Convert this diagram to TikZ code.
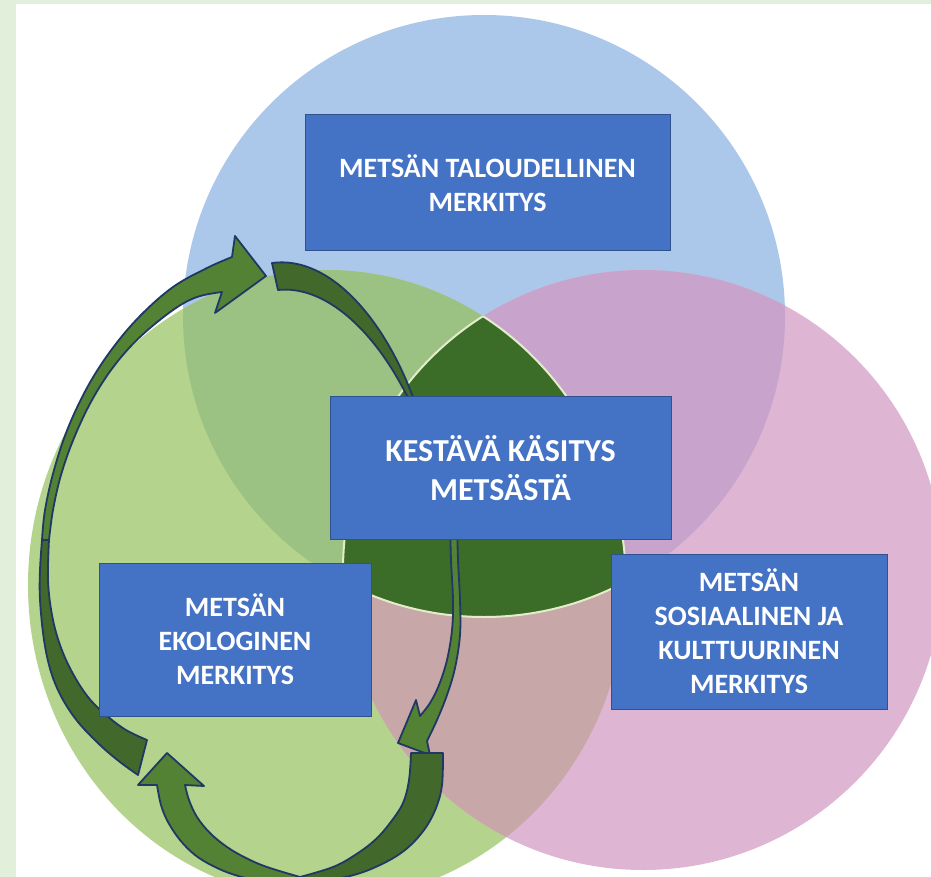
\documentclass[tikz,border=0pt]{standalone}
\usepackage{fontspec}
\setmainfont{Carlito}
\definecolor{frame}{HTML}{E2EFDA}
\definecolor{cblue}{HTML}{ABC7EA}
\definecolor{cgreen}{HTML}{B4D48E}
\definecolor{cpink}{HTML}{DEB5D3}
\definecolor{cbg}{HTML}{9CC283}
\definecolor{cbp}{HTML}{C8A4CD}
\definecolor{cgp}{HTML}{C8A7A8}
\definecolor{ctri}{HTML}{3B6D29}
\definecolor{triline}{HTML}{E3EDCB}
\definecolor{boxblue}{HTML}{4472C4}
\definecolor{boxedge}{HTML}{2F528F}
\definecolor{arrowL}{HTML}{548235}
\definecolor{arrowD}{HTML}{43682B}
\definecolor{arrowEdge}{HTML}{1F3864}
\begin{document}
\begin{tikzpicture}[x=1pt,y=-1pt,
  textbox/.style={rectangle, fill=boxblue, draw=boxedge, line width=1pt,
    text=white, align=center, inner sep=0pt,
    font=\bfseries\fontsize{28}{34}\selectfont},
  bigtext/.style={font=\bfseries\fontsize{32}{39}\selectfont},
  arrowlight/.style={fill=arrowL, draw=arrowEdge, line width=1.8pt, line join=round},
  arrowdark/.style={fill=arrowD, draw=arrowEdge, line width=1.8pt, line join=round},
  tripart/.style={draw=triline, line width=2pt}]
\useasboundingbox (0,0) rectangle (931,877);
\clip (0,0) rectangle (931,877);
% frame
\fill[frame] (0,0) rectangle (931,877);
\fill[white] (16,4) rectangle (931,877);
% circles
\coordinate (cB) at (484,316);
\coordinate (cG) at (327,585);
\coordinate (cP) at (643,570);
\def\blueC{(cB) circle[radius=301pt]}
\def\greenC{(cG) ellipse[x radius=299pt, y radius=315pt]}
\def\pinkC{(cP) circle[radius=300pt]}
\fill[cblue] \blueC;
\fill[cgreen] \greenC;
\fill[cpink] \pinkC;
\begin{scope}
  \clip \blueC;
  \fill[cbg] \greenC;
\end{scope}
\begin{scope}
  \clip \blueC;
  \fill[cbp] \pinkC;
\end{scope}
\begin{scope}
  \clip \greenC;
  \fill[cgp] \pinkC;
\end{scope}
\begin{scope}
  \clip \blueC;
  \clip \greenC;
  \fill[ctri] \pinkC;
  \draw[tripart] \pinkC;
\end{scope}
\begin{scope}
  \clip \blueC;
  \clip \pinkC;
  \draw[tripart] \greenC;
\end{scope}
\begin{scope}
  \clip \greenC;
  \clip \pinkC;
  \draw[tripart] \blueC;
\end{scope}
% arrow A (left, head at top)
\filldraw[arrowdark] plot[smooth, tension=0.6] coordinates {(42,540) (40,570) (40,600) (44,640) (51,672) (62,698) (78,722) (100,745) (120,762) (138,775)}
  -- (147,740)
  -- plot[smooth, tension=0.6] coordinates {(147,740) (126,730) (106,715) (88,697) (72,672) (60,645) (52,615) (48,580) (49,540)} -- cycle;
\filldraw[arrowlight] plot[smooth, tension=0.6] coordinates {(42,540) (45,510) (54,470) (68,428) (88,386) (112,349) (140,316) (173,287) (207,268) (232,257)}
  -- (235,236) -- (266,276) -- (215,313) -- (222,292)
  -- plot[smooth, tension=0.6] coordinates {(222,292) (197,297) (173,310) (140,337) (114,366) (92,400) (74,438) (61,475) (53,510) (49,540)} -- cycle;
% arrow B (top tail, head at lower right)
\filldraw[arrowdark] (272,263) .. controls (330,255) and (385,320) .. (414,400)
  -- (409,400) .. controls (375,330) and (325,285) .. (278,290) -- cycle;
\filldraw[arrowlight] plot[smooth, tension=0.6] coordinates {(450,520) (451,560) (453,600) (452,630) (447,660) (439,685) (430,703) (420,716)}
  -- (416,700) -- (398,743) -- (430,755) -- (427,741)
  -- plot[smooth, tension=0.6] coordinates {(427,741) (437,720) (447,695) (455,668) (460,635) (460,600) (458,560) (457,520)} -- cycle;
% arrow C (bottom, head pointing up at left)
\filldraw[arrowdark] plot[smooth, tension=0.6] coordinates {(443,753) (442,785) (436,808) (424,830) (405,850) (380,865) (350,876) (305,884)}
  -- (300,877)
  -- plot[smooth, tension=0.6] coordinates {(300,877) (333,867) (355,855) (375,840) (390,823) (403,803) (409,780) (411,753)} -- cycle;
\filldraw[arrowlight] plot[smooth, tension=0.6] coordinates {(305,884) (265,882) (235,875) (213,866) (195,855) (180,840) (168,822) (161,805) (157,785)}
  -- (138,785) -- (167,753) -- (204,786) -- (185,785)
  -- plot[smooth, tension=0.6] coordinates {(185,785) (189,800) (197,817) (210,833) (227,847) (246,858) (267,867) (300,877)} -- cycle;
% boxes
\node[textbox, minimum width=365pt, minimum height=136pt] (taloudellinen) at (487.5,183) {METSÄN TALOUDELLINEN\\MERKITYS};
\node[textbox, bigtext, minimum width=341pt, minimum height=143pt] (kestava) at (500.5,468) {KESTÄVÄ KÄSITYS\\METSÄSTÄ};
\node[textbox, minimum width=272pt, minimum height=153pt] (ekologinen) at (235,639.5) {METSÄN\\EKOLOGINEN\\MERKITYS};
\node[textbox, minimum width=276pt, minimum height=155pt] (sosiaalinen) at (749,631.5) {METSÄN\\SOSIAALINEN JA\\KULTTUURINEN\\MERKITYS};
\end{tikzpicture}
\end{document}
